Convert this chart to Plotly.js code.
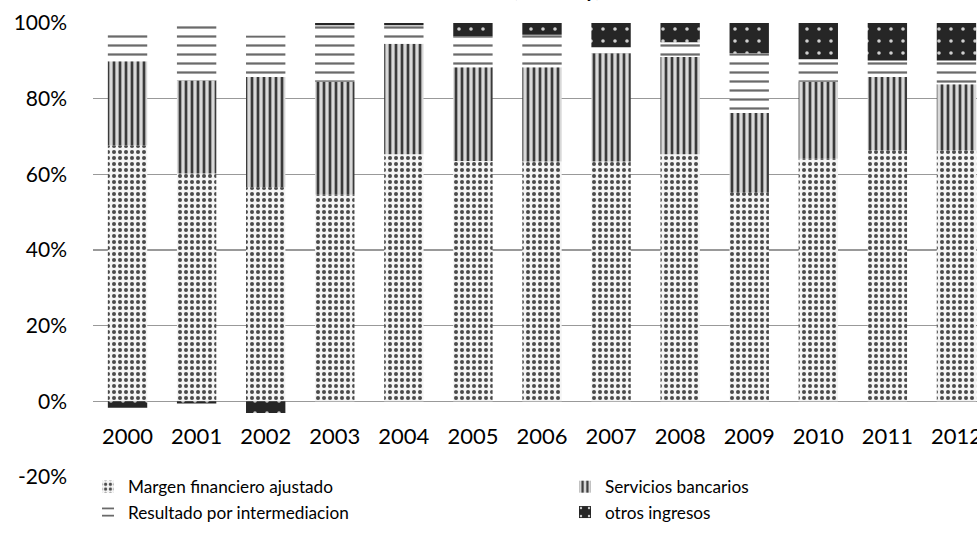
<!DOCTYPE html>
<html>
<head>
<meta charset="utf-8">
<script src="https://cdn.plot.ly/plotly-3.0.1.min.js"></script>
<style>
html,body{margin:0;padding:0;background:#fff;overflow:hidden;}
#chart{width:1100px;height:534px;}
</style>
</head>
<body>
<div id="chart"></div>
<script>
const years = ['2000','2001','2002','2003','2004','2005','2006','2007','2008','2009','2010','2011','2012'];
const margenFinanciero = [67.6, 60.2, 56.6, 54.6, 65.3, 63.5, 63.4, 63.4, 65.3, 55.1, 64.1, 66.3, 66.3];
const serviciosBancarios = [22.3, 24.6, 29.1, 29.9, 29.2, 24.8, 24.9, 28.6, 25.7, 21.1, 20.4, 19.4, 17.5];
const resultadoIntermediacion = [8.1, 14.4, 11.0, 14.9, 4.9, 8.2, 8.6, 1.6, 3.9, 15.8, 5.9, 4.4, 6.3];
const otrosIngresos = [-1.7, -0.6, -3.1, 0.6, 0.6, 3.5, 3.1, 6.4, 5.1, 8.0, 9.6, 9.9, 9.9];
const seriesNames = ['Margen financiero ajustado', 'Servicios bancarios', 'Resultado por intermediacion', 'otros ingresos'];
const yTicks = [-20, 0, 20, 40, 60, 80, 100];
const yTickLabels = ['-20%', '0%', '20%', '40%', '60%', '80%', '100%'];
const titleText = 'Composición de los ingresos de la banca<br>Chile, banca (% total y)';

const FONT = 'Lato, sans-serif';

const traces = [
  {name: seriesNames[0], x: years, y: margenFinanciero, type: 'bar', legend: 'legend',
   marker: {color: '#f4f4f4', line: {width: 0},
     pattern: {shape: '.', fillmode: 'replace', bgcolor: '#f4f4f4', fgcolor: '#4a4a4a', size: 6, solidity: 0.35}}},
  {name: seriesNames[1], x: years, y: serviciosBancarios, type: 'bar', legend: 'legend2',
   marker: {color: '#777', line: {width: 0},
     pattern: {shape: '|', fillmode: 'replace', bgcolor: '#d8d8d8', fgcolor: '#3a3a3a', size: 6, solidity: 0.45}}},
  {name: seriesNames[2], x: years, y: resultadoIntermediacion, type: 'bar', legend: 'legend',
   marker: {color: '#ddd', line: {width: 0},
     pattern: {shape: '-', fillmode: 'replace', bgcolor: '#ffffff', fgcolor: '#6a6a6a', size: 9, solidity: 0.25}}},
  {name: seriesNames[3], x: years, y: otrosIngresos, type: 'bar', legend: 'legend2',
   marker: {color: '#262626', line: {width: 0},
     pattern: {shape: '.', fillmode: 'replace', bgcolor: '#262626', fgcolor: '#cfcfcf', size: 12, solidity: 0.07}}}
];

const legendCommon = {
  orientation: 'v', xref: 'container', yref: 'container',
  xanchor: 'left', yanchor: 'top',
  font: {family: FONT, size: 17.2, color: '#000'},
  itemwidth: 30, traceorder: 'normal', bgcolor: 'rgba(0,0,0,0)', tracegroupgap: 0
};

const layout = {
  width: 1100, height: 534,
  margin: {l: 92.5, r: 109.2, t: 22.7, b: 57, autoexpand: false},
  paper_bgcolor: '#fff', plot_bgcolor: '#fff',
  barmode: 'relative',
  bargap: 0.43,
  showlegend: true,
  font: {family: FONT, color: '#000'},
  xaxis: {
    type: 'category', range: [-0.5, 12.5], automargin: false, tickangle: 0,
    anchor: 'free', position: 76 / 454.3,
    showgrid: false, showline: false, zeroline: false, ticks: '',
    tickfont: {family: FONT, size: 22, color: '#000'},
    ticklabelstandoff: 20
  },
  yaxis: {
    range: [-20, 100], tickvals: yTicks, ticktext: yTickLabels, automargin: false,
    showgrid: true, gridcolor: '#999', gridwidth: 1.3,
    zeroline: false, showline: false, ticks: '',
    tickfont: {family: FONT, size: 21, color: '#000'},
    ticklabelstandoff: 25
  },
  legend: Object.assign({}, legendCommon, {x: 88 / 1100, y: 1 - 469 / 534}),
  legend2: Object.assign({}, legendCommon, {x: 565 / 1100, y: 1 - 469 / 534}),
  annotations: [{
    text: titleText, xref: 'paper', yref: 'paper', x: (500 - 92.5) / 898.3, y: 1,
    xanchor: 'center', yanchor: 'bottom', yshift: 19.5, showarrow: false,
    font: {family: FONT, size: 20, color: '#000', weight: 'bold'}
  }]
};

Plotly.newPlot('chart', traces, layout, {displayModeBar: false, staticPlot: true});
</script>
</body>
</html>
